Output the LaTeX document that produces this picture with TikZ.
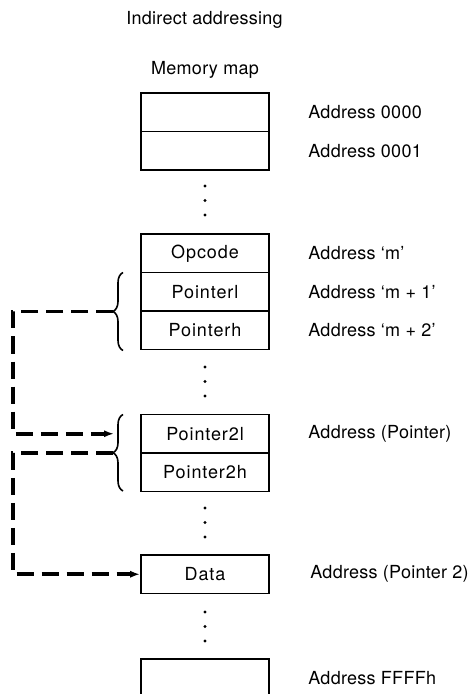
\documentclass[tikz,border=0pt]{standalone}
\usepackage{fontspec}
\setmainfont{TeX Gyre Heros}
\newfontfamily\cellfont[LetterSpace=5]{TeX Gyre Heros}
\newfontfamily\labelfont[LetterSpace=1.5]{TeX Gyre Heros}
\usetikzlibrary{arrows.meta,decorations.pathreplacing}
\begin{document}
\begin{tikzpicture}[x=0.5pt,y=-0.5pt,
  txt/.style={font=\labelfont\fontsize{9}{11}\selectfont},
  cell/.style={font=\cellfont\fontsize{9}{11}\selectfont,draw,line width=0.9pt,minimum width=64pt,minimum height=19.25pt,inner sep=0pt},
  addr/.style={txt,anchor=west,inner sep=0pt},
  vdot/.style={circle,fill,inner sep=0pt,minimum size=1.7pt},
  link/.style={line width=1.8pt,dash pattern=on 8.5pt off 4pt,-{Latex[length=5pt,width=3.6pt]}},
  bracket/.style={decorate,decoration={brace,amplitude=5pt},line width=0.8pt}]
\useasboundingbox (0,0) rectangle (472,694);

% headings
\node[txt,anchor=west,inner sep=0pt] (title) at (126,20) {Indirect addressing};
\node[txt,inner sep=0pt] (mmap) at (205,70) {Memory map};

% memory cells
\node[cell] (m0) at (205,112.25) {};
\node[cell] (m1) at (205,150.75) {};
\node[cell] (op) at (205,253.25) {Opcode};
\node[cell] (pl) at (205,291.75) {Pointerl};
\node[cell] (ph) at (205,330.25) {Pointerh};
\node[cell] (qa) at (205,433.75) {Pointer2l};
\node[cell] (qb) at (205,472.25) {Pointer2h};
\node[cell] (dt) at (205,574.25) {Data};
\node[cell] (mz) at (205,678.25) {};

% addresses
\node[addr] (a0) at (308,0 |- m0) {Address 0000};
\node[addr] (a1) at (308,0 |- m1) {Address 0001};
\node[addr] (aop) at (308,0 |- op) {Address ‘m’};
\node[addr] (apl) at (308,0 |- pl) {Address ‘m + 1’};
\node[addr] (aph) at (308,0 |- ph) {Address ‘m + 2’};
\node[addr] (aqa) at (308,0 |- qa) {Address (Pointer)};
\node[addr] (adt) at (310,0 |- dt) {Address (Pointer 2)};
\node[addr] (amz) at (308,0 |- mz) {Address FFFFh};

% ellipsis dots between cell groups
\foreach \g/\y in {1/186,2/367,3/508,4/612}{
  \foreach \k in {0,1,2}{
    \node[vdot] (d\g-\k) at (205,\y+14.5*\k) {};
  }
}

% braces grouping the pointer bytes
\draw[bracket] (123,350.5) -- (123,272.5);
\draw[bracket] (123,491) -- (123,414.5);
\coordinate (b1) at (113,311.5);
\coordinate (b2) at (113,452.75);
\coordinate (e1) at (114,433.75);

% indirection links
\draw[link] (b1) -- ++(-100,0) |- (e1);
\draw[link] (b2) -- ++(-100,0) |- (dt.west);
\end{tikzpicture}
\end{document}
